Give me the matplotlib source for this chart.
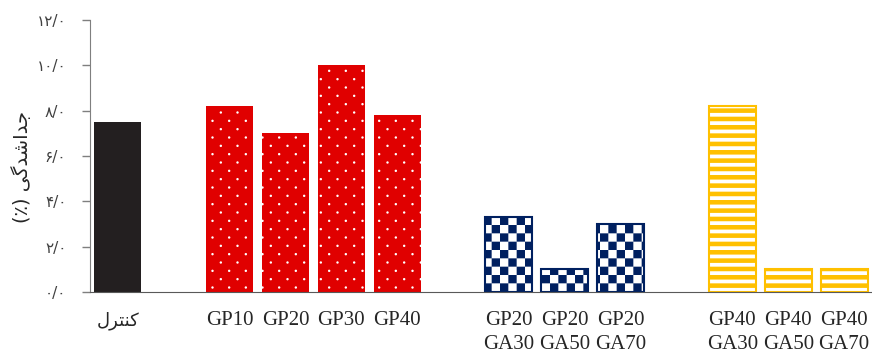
import matplotlib
matplotlib.use("Agg")
import matplotlib.pyplot as plt
import matplotlib.hatch as mhatch
from matplotlib.path import Path
import numpy as np

## data ##
labels = ['کنترل', 'GP10', 'GP20', 'GP30', 'GP40',
          'GP20\nGA30', 'GP20\nGA50', 'GP20\nGA70',
          'GP40\nGA30', 'GP40\nGA50', 'GP40\nGA70']
values = [7.5, 8.2, 7.0, 10.0, 7.8, 3.3, 1.0, 3.0, 8.2, 1.0, 1.0]
groups = [0, 1, 1, 1, 1, 2, 2, 2, 3, 3, 3]
yticks = [0, 2, 4, 6, 8, 10, 12]

# pre-shaped persian text (matplotlib does no arabic shaping / bidi)
shaped = {'کنترل': '\ufedd\ufeae\ufe98\ufee8\ufb90'}
ylabel = '(\u066a) ' + '\ufbfd\ufb94\ufeaa\ufeb7\ufe8d\ufeaa\ufe9f'


def fa_num(v):
    s = f"{v:.1f}".replace('.', '/')
    return ''.join(chr(0x6F0 + int(c)) if c.isdigit() else c for c in s)


## custom fill patterns: checkerboard, stripes, dots ##
MOVE, LINE, CLOSE = Path.MOVETO, Path.LINETO, Path.CLOSEPOLY


class Checker(mhatch.HatchPatternBase):
    def __init__(self, hatch, density):
        self.n = hatch.count('O') * int(density) * 2
        self.num_vertices = (self.n * self.n // 2) * 5

    def set_vertices_and_codes(self, vertices, codes):
        s = 1.0 / self.n
        k = 0
        for i in range(self.n):
            for j in range(self.n):
                if (i + j) % 2:
                    continue
                x0, y0 = j * s, i * s
                vertices[k:k + 5] = [(x0, y0), (x0 + s, y0), (x0 + s, y0 + s),
                                     (x0, y0 + s), (x0, y0)]
                codes[k:k + 5] = [MOVE, LINE, LINE, LINE, CLOSE]
                k += 5


class Stripes(mhatch.HatchPatternBase):
    def __init__(self, hatch, density):
        self.n = hatch.count('-') * int(density) * 2
        self.num_vertices = self.n * 5

    def set_vertices_and_codes(self, vertices, codes):
        s = 1.0 / self.n
        t = 0.45 * s
        for i in range(self.n):
            y0 = i * s
            vertices[i * 5:i * 5 + 5] = [(0, y0), (1, y0), (1, y0 + t), (0, y0 + t), (0, y0)]
            codes[i * 5:i * 5 + 5] = [MOVE, LINE, LINE, LINE, CLOSE]


class Dots(mhatch.HatchPatternBase):
    circle = Path.unit_circle()

    def __init__(self, hatch, density):
        self.rows = hatch.count('.') * int(density) * 2
        self.cols = self.rows // 2
        self.nv = len(self.circle.vertices)
        self.num_vertices = self.rows * self.cols * self.nv

    def set_vertices_and_codes(self, vertices, codes):
        r = 0.012
        k = 0
        for i in range(self.rows):
            y = (i + 0.5) / self.rows
            for j in range(self.cols):
                x = (j + 0.25 + 0.5 * (i % 2)) / self.cols
                vertices[k:k + self.nv] = self.circle.vertices * r + (x, y)
                codes[k:k + self.nv] = self.circle.codes
                k += self.nv


mhatch._hatch_types = [Checker, Stripes, Dots]

plt.rcParams['hatch.linewidth'] = 0.01

faces = ['#231f20', '#e00000', '#002060', '#ffc000']
hatches = [None, '.', 'O', '-']
outlined = [False, False, True, True]

fig = plt.figure(figsize=(8.72, 3.52), dpi=100)
ax = fig.add_axes([90 / 872, 60 / 352, 782 / 872, 272 / 352])

xpos = np.arange(len(values)) + np.array(groups)
vals = np.array(values)
grp = np.array(groups)
w = 0.84

for g in range(4):
    m = grp == g
    if hatches[g]:
        ax.bar(xpos[m], vals[m], w, color=faces[g], edgecolor='white',
               linewidth=0, hatch=hatches[g])
    else:
        ax.bar(xpos[m], vals[m], w, color=faces[g], linewidth=0)
    if outlined[g]:
        ax.bar(xpos[m], vals[m], w, fill=False, edgecolor=faces[g], linewidth=1.5)

ax.set_xlim(-0.5, 13.5)
ax.set_ylim(0, 12)
ax.set_yticks(yticks)
ax.set_yticklabels([fa_num(t) for t in yticks], family=['DejaVu Sans'],
                   fontsize=11, color='#404040')
ax.set_xticks(xpos)
ax.set_xticklabels([shaped.get(l, l) for l in labels],
                   family=['Liberation Serif', 'DejaVu Sans'], fontsize=15,
                   color='#262626', linespacing=1.3)
ax.get_xticklabels()[0].set_fontsize(13)
ax.tick_params(axis='x', length=0, pad=14)
ax.tick_params(axis='y', length=6, width=1, color='#7f7f7f', pad=11)

for s in ['top', 'right']:
    ax.spines[s].set_visible(False)
ax.spines['left'].set_color('#7f7f7f')
ax.spines['bottom'].set_color('#595959')

ax.set_ylabel(ylabel, family=['DejaVu Sans'], fontsize=14, color='#262626', va='center')
ax.yaxis.set_label_coords(-0.087, 0.46)

fig.savefig("out.png", dpi=100)
